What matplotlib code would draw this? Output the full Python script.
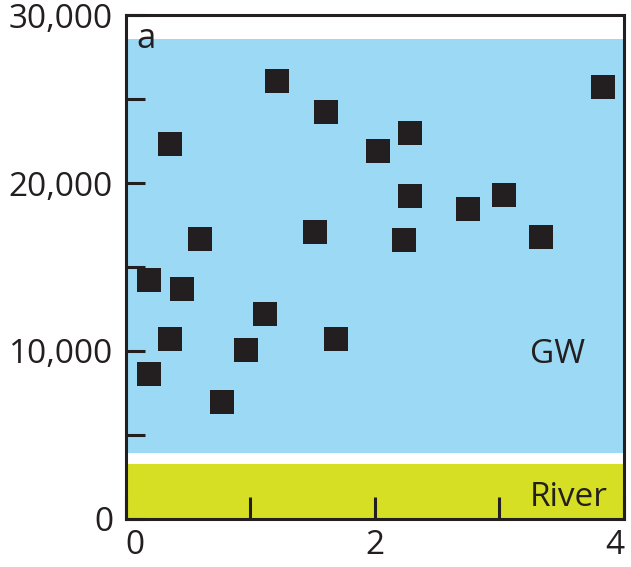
import matplotlib.pyplot as plt

plt.rcParams['font.family'] = ['Open Sans', 'DejaVu Sans']

# sample points (x, concentration)
x_vals = [0.185, 0.185, 0.361, 0.361, 0.457, 0.594, 0.778, 0.963, 1.116, 1.212,
          1.517, 1.605, 1.693, 2.030, 2.231, 2.279, 2.279, 2.745, 3.034, 3.331, 3.828]
y_vals = [14200, 8660, 22350, 10740, 13720, 16640, 6940, 10030, 12230, 26100,
          17110, 24200, 10740, 21880, 16580, 22950, 19200, 18480, 19260, 16760, 25690]

gw_range = [3950, 28600]
river_range = [0, 3300]

xticks = [0, 1, 2, 3, 4]
xticklabels = ['0', '', '2', '', '4']
yticks = [0, 5000, 10000, 15000, 20000, 25000, 30000]
yticklabels = ['0', '', '10,000', '', '20,000', '', '30,000']

blue = '#9BD9F5'
yellow = '#D6DF23'
dark = '#231F20'

fig = plt.figure(figsize=(6.31, 5.67), dpi=100)
ax = fig.add_axes([0.1989, 0.0847, 0.79, 0.8888])

ax.axhspan(gw_range[0], gw_range[1], color=blue, lw=0, zorder=0)
ax.axhspan(river_range[0], river_range[1], color=yellow, lw=0, zorder=0)

ax.plot(x_vals, y_vals, 's', color=dark, markersize=16.6, markeredgewidth=0, zorder=3)

ax.text(3.246, 9286, 'GW', fontsize=24, color=dark, ha='left', va='baseline')
ax.text(3.246, 792, 'River', fontsize=24, color=dark, ha='left', va='baseline')
ax.text(0.084, 28036, 'a', fontsize=25, color=dark, ha='left', va='baseline')

ax.set_xlim(0, 4)
ax.set_ylim(0, 30000)
ax.set_xticks(xticks)
ax.set_xticklabels(xticklabels)
ax.set_yticks(yticks)
ax.set_yticklabels(yticklabels)

labs = ax.get_xticklabels()
labs[0].set_ha('left')
labs[-1].set_ha('right')

for s in ax.spines.values():
    s.set_linewidth(2.2)
    s.set_color(dark)
    s.set_zorder(4)

ax.tick_params(axis='both', direction='in', width=2.2, color=dark,
               labelsize=24, labelcolor=dark)
ax.tick_params(axis='x', length=16, pad=7)
ax.tick_params(axis='y', length=14, pad=9)

fig.savefig('out.png', dpi=100)
